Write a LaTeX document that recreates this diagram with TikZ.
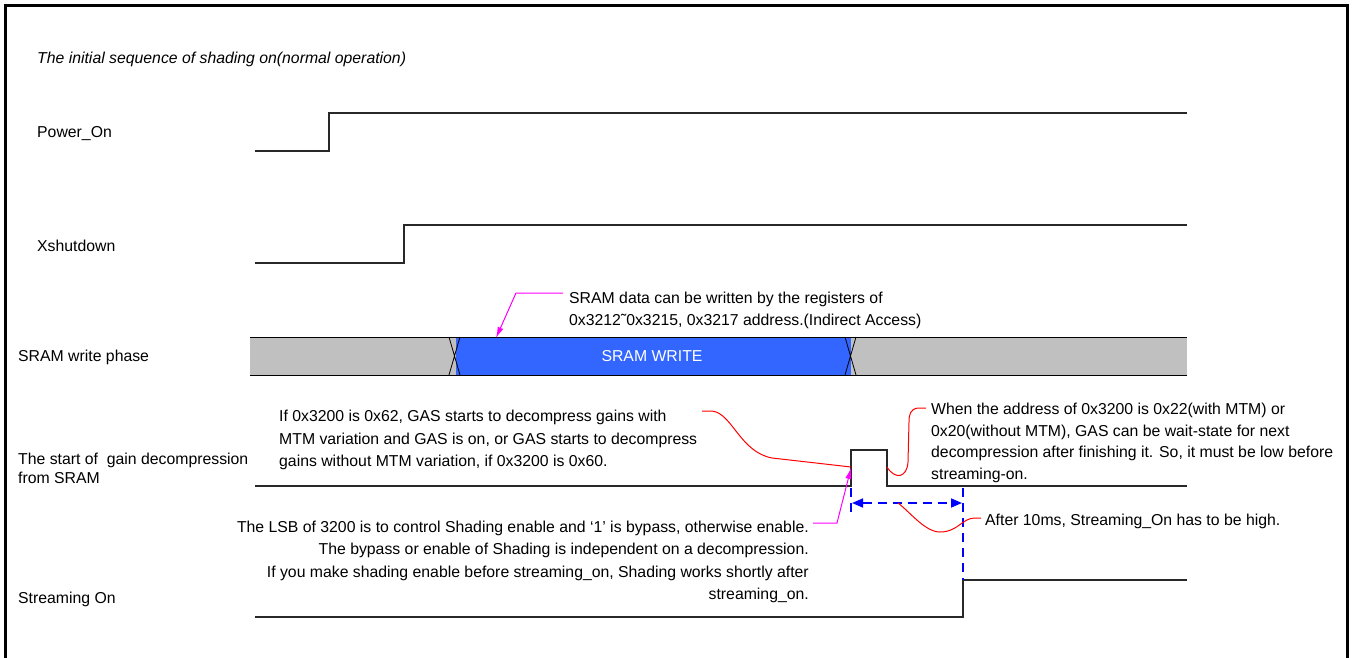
\documentclass[tikz,border=0pt]{standalone}
\usepackage{fontspec}
\setmainfont{Liberation Sans}
\usetikzlibrary{arrows.meta}
\definecolor{sramblue}{RGB}{51,102,255}
\definecolor{busgray}{RGB}{192,192,192}
\definecolor{magn}{RGB}{255,0,255}
\definecolor{sigcol}{RGB}{40,40,40}
\tikzset{
  sig/.style={draw=sigcol, line width=1.6pt},
  lbl/.style={anchor=west, inner sep=0pt, yshift=-2.5pt, font=\fontsize{15.8}{18}\selectfont},
  note/.style={inner sep=0pt, yshift=-2.5pt, font=\fontsize{15.8}{22.4}\selectfont},
  redc/.style={draw=red, line width=1pt},
  magc/.style={draw=magn, line width=1pt, -{Latex[length=11pt,width=6pt]}},
  bluedash/.style={draw=blue, line width=1.6pt, dash pattern=on 9pt off 6pt},
}
\begin{document}
\begin{tikzpicture}[x=1pt,y=-1pt]
\useasboundingbox (0,0) rectangle (1353,658);
% frame
\draw[line width=3pt] (5.5,662) -- (5.5,5.5) -- (1347,5.5) -- (1347,662);
% title
\node[lbl, font=\fontsize{15.8}{18}\selectfont\itshape] (title) at (37,57) {The initial sequence of shading on(normal operation)};
% labels
\node[lbl] (lpow) at (37,131) {Power\_On};
\node[lbl] (lxsh) at (37,243) {Xshutdown};
\node[lbl] (lsram) at (18,355) {SRAM write phase};
\node[lbl, align=left, font=\fontsize{15.8}{19}\selectfont] (ldec) at (18,466) {The start of\ \ gain decompression\\from SRAM};
\node[lbl] (lstr) at (18,597) {Streaming On};
% Power_On
\draw[sig] (255,151) -- (329,151) -- (329,113) -- (1187,113);
% Xshutdown
\draw[sig] (255,263) -- (404,263) -- (404,225) -- (1187,225);
% SRAM write phase bus
\fill[busgray] (250,337) rectangle (1187,375);
\fill[sramblue] (456,337) rectangle (851,375);
\draw[line width=1pt] (250,337) -- (1187,337);
\draw[line width=1pt] (250,375) -- (1187,375);
\draw[line width=0.8pt] (449,337) -- (460,375) (460,337) -- (449,375);
\draw[line width=0.8pt] (845,337) -- (856,375) (856,337) -- (845,375);
\node[inner sep=0pt, text=white, yshift=-1pt, font=\fontsize{15.8}{18}\selectfont] (sramw) at (652,355) {SRAM WRITE};
% SRAM note
\node[note, anchor=west, align=left] (sramnote) at (569,308) {SRAM data can be written by the registers of\\0x3212˜0x3215, 0x3217 address.(Indirect Access)};
\coordinate (sn1) at (563,293);
\coordinate (sn2) at (516,293);
\coordinate (sntip) at (496,338);
\draw[magc] (sn1) -- (sn2) -- (sntip);
% gain decompression
\coordinate (prise) at (851,486);
\coordinate (ptop1) at (851,450);
\coordinate (ptop2) at (887,450);
\coordinate (pfall) at (887,486);
\draw[sig] (255,486) -- (prise) -- (ptop1) -- (ptop2) -- (pfall) -- (1187,486);
% Streaming on
\coordinate (srise) at (963,617);
\coordinate (shigh) at (963,580);
\draw[sig] (255,617) -- (srise) -- (shigh) -- (1187,580);
% blue dashed timing
\draw[bluedash] (851,488) -- (851,517);
\draw[bluedash] (963,488) -- (shigh);
\draw[bluedash, {Triangle[length=11pt,width=9pt]}-{Triangle[length=11pt,width=9pt]}] (852,503) -- (962,503);
% notes
\node[note, anchor=west, align=left] (ifnote) at (279,437.5) {If 0x3200 is 0x62, GAS starts to decompress gains with\\MTM variation and GAS is on, or GAS starts to decompress\\gains without MTM variation, if 0x3200 is 0x60.};
\node[note, anchor=west, align=left, font=\fontsize{15.8}{21.7}\selectfont] (whennote) at (931,440.5) {When the address of 0x3200 is 0x22(with MTM) or\\0x20(without MTM), GAS can be wait-state for next\\decompression after finishing it. So, it must be low before\\streaming-on.};
\node[note, anchor=east, align=right] (lsbnote) at (809,559.5) {The LSB of 3200 is to control Shading enable and ‘1’ is bypass, otherwise enable.\\The bypass or enable of Shading is independent on a decompression.\\If you make shading enable before streaming\_on, Shading works shortly after\\streaming\_on.};
\node[note, anchor=west] (afternote) at (985,519) {After 10ms, Streaming\_On has to be high.};
% red callouts
\coordinate (r1s) at (702,411);
\coordinate (r1e) at (851,467);
\draw[redc] (r1s) -- (712,411) .. controls (732,413) and (740,452) .. (772,458) -- (r1e);
\coordinate (r2s) at (926,408);
\coordinate (r2e) at (887,467);
\draw[redc] (r2s) -- (918,408) .. controls (910,409) and (909,415) .. (909,422) -- (908,462) .. controls (907,478) and (895,480) .. (r2e);
\coordinate (r3s) at (981,518);
\coordinate (r3e) at (898,503);
\draw[redc] (r3s) -- (975,518) .. controls (962,518) and (958,532) .. (940,532) .. controls (925,532) and (910,512) .. (r3e);
% magenta callout for LSB
\coordinate (m1) at (813,523);
\coordinate (m2) at (837,523);
\coordinate (mtip) at (851,468);
\draw[magc] (m1) -- (m2) -- (mtip);
\end{tikzpicture}
\end{document}
